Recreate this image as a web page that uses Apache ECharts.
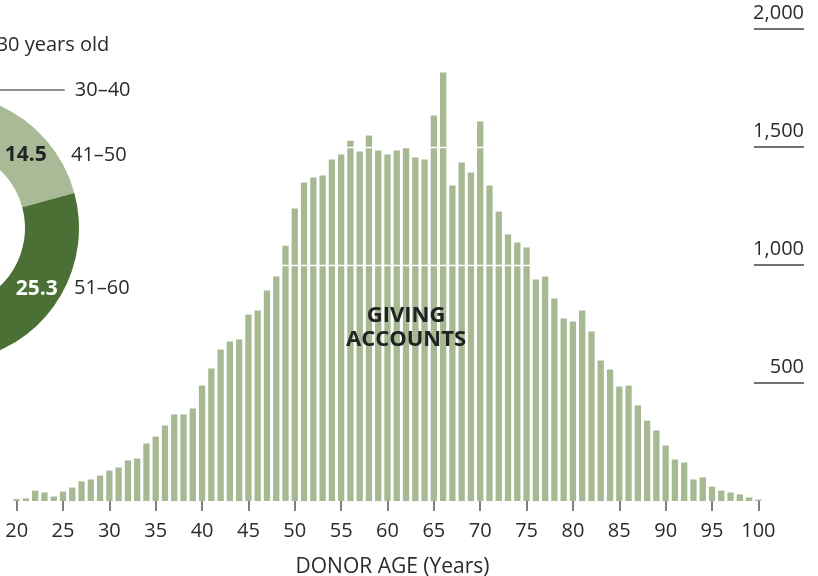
<!DOCTYPE html>
<html>
<head>
<meta charset="utf-8">
<script src="https://cdn.jsdelivr.net/npm/echarts@6/dist/echarts.min.js"></script>
<style>
html,body{margin:0;padding:0;background:#ffffff;}
#chart{width:818px;height:576px;}
</style>
</head>
<body>
<div id="chart"></div>
<script>
// ---- data ----
const ages = [20,21,22,23,24,25,26,27,28,29,30,31,32,33,34,35,36,37,38,39,40,
  41,42,43,44,45,46,47,48,49,50,51,52,53,54,55,56,57,58,59,60,
  61,62,63,64,65,66,67,68,69,70,71,72,73,74,75,76,77,78,79,80,
  81,82,83,84,85,86,87,88,89,90,91,92,93,94,95,96,97,98,99,100];
const giving_accounts = [8,11,44,36,19,40,57,83,91,108,129,142,172,180,244,273,320,367,367,392,489,
  561,642,676,684,790,807,892,951,1082,1239,1350,1371,1379,1447,1468,1527,1481,1549,1485,1468,
  1485,1498,1456,1447,1633,1816,1337,1434,1392,1608,1337,1227,1129,1095,1074,939,951,858,773,761,
  807,718,595,557,485,489,405,341,299,235,176,163,91,100,61,44,36,28,15,6];
const yTickValues = [500, 1000, 1500, 2000];
const ageGroups = ['Under 30 years old', '30–40', '41–50', '51–60', '61–70', '71–80', '81–90', '91–100'];
const groupShares = [0.9, 5.4, 14.5, 25.3, 26.3, 17.7, 8.6, 1.3];
const xAxisTitle = 'DONOR AGE (Years)';
const seriesTitle = 'GIVING\nACCOUNTS';

// ---- styles ----
const FONT = '"Open Sans", Lato, sans-serif';
const TEXT = '#2b2b2b';
const BAR = '#a7b993';
const groupColors = ['#dde4d4', '#c6d2b9', '#a9bb96', '#4a7035', '#2f4e23', '#6f8f5a', '#8ea77a', '#c0cdb1'];
const valueLabelColors = ['#222', '#222', '#222', '#ffffff', '#ffffff', '#ffffff', '#222', '#222'];

const chart = echarts.init(document.getElementById('chart'), null, {renderer: 'canvas'});

const donutData = ageGroups.map((n, i) => ({
  name: n,
  value: groupShares[i],
  itemStyle: {color: groupColors[i]},
  label: {color: valueLabelColors[i]}
}));

const nameData = ageGroups.map((n, i) => {
  const d = {name: n, value: groupShares[i]};
  if (i === 0) {
    d.label = {position: 'outside'};
    d.labelLine = {show: false};
  } else if (i === 1) {
    d.label = {position: 'outside', distanceToLabelLine: 10};
    d.labelLine = {show: true, length: 7.6, length2: 88, lineStyle: {color: '#222', width: 1.2}};
  } else if (i >= 4) {
    d.label = {show: false};
  }
  return d;
});

const option = {
  animation: false,
  textStyle: {fontFamily: FONT},
  grid: {left: 12, right: 55, top: 29, bottom: 75, outerBoundsMode: 'none', containLabel: false},
  xAxis: {
    type: 'category',
    data: ages,
    boundaryGap: true,
    axisLine: {show: false},
    axisTick: {show: true, alignWithLabel: true, interval: 4, length: 10, lineStyle: {color: '#555', width: 1.5}},
    axisLabel: {interval: 4, margin: 20, fontSize: 20, color: TEXT, fontFamily: FONT},
    name: xAxisTitle,
    nameLocation: 'middle',
    nameGap: 56,
    nameTextStyle: {fontSize: 21, color: TEXT, fontFamily: FONT, padding: [0, 0, 0, 10]}
  },
  yAxis: {
    type: 'value',
    position: 'right',
    min: 0, max: 2000, interval: 500,
    offset: -9,
    z: 5,
    axisLine: {show: false},
    axisTick: {show: true, customValues: yTickValues, length: 50, inside: false, lineStyle: {color: '#444', width: 1.5}},
    axisLabel: {
      customValues: yTickValues, margin: 50, align: 'right', verticalAlign: 'middle',
      fontSize: 20, color: TEXT, fontFamily: FONT,
      formatter: v => '{t|' + v.toLocaleString('en-US') + '}',
      rich: {t: {fontSize: 20, color: TEXT, fontFamily: FONT, padding: [0, 0, 32, 0]}}
    },
    splitLine: {show: true, showMinLine: false, showMaxLine: false, lineStyle: {color: '#ffffff', width: 1.3}}
  },
  series: [
    {
      type: 'bar',
      name: 'Giving accounts',
      data: giving_accounts,
      barWidth: '68%',
      itemStyle: {color: BAR},
      silent: true,
      z: 2
    },
    {
      type: 'pie',
      name: 'Share by age group',
      center: [-55, 228],
      radius: [80, 134],
      startAngle: 90,
      clockwise: true,
      avoidLabelOverlap: false,
      silent: true,
      z: 8,
      label: {show: true, position: 'inside', formatter: '{c}', fontSize: 21, fontWeight: 'bold', fontFamily: FONT},
      labelLine: {show: false},
      labelLayout: function (p) {
        if (p.dataIndex === 2) return {dx: -2};
        if (p.dataIndex === 3) return {dx: -3, dy: 5};
        return {};
      },
      data: donutData
    },
    {
      type: 'pie',
      name: 'Age group names',
      center: [-55, 228],
      radius: [80, 134],
      startAngle: 90,
      clockwise: true,
      avoidLabelOverlap: false,
      silent: true,
      z: 9,
      itemStyle: {color: 'rgba(0,0,0,0)'},
      label: {show: true, position: 'inside', formatter: '{b}', fontSize: 20, color: TEXT, fontFamily: FONT},
      labelLine: {show: false},
      labelLayout: function (p) {
        if (p.dataIndex === 0) return {x: -67, y: 45, align: 'left', verticalAlign: 'middle'};
        if (p.dataIndex === 2) return {x: 71, align: 'left'};
        if (p.dataIndex === 3) return {x: 74, dy: 5, align: 'left'};
        return {};
      },
      data: nameData
    }
  ],
  graphic: [{
    type: 'text',
    x: 406, y: 327.5,
    z: 100,
    silent: true,
    style: {
      text: seriesTitle, align: 'center', verticalAlign: 'middle',
      fontFamily: FONT, fontWeight: 'bold', fontSize: 22, lineHeight: 24, fill: '#222'
    }
  }]
};
chart.setOption(option);
</script>
</body>
</html>
